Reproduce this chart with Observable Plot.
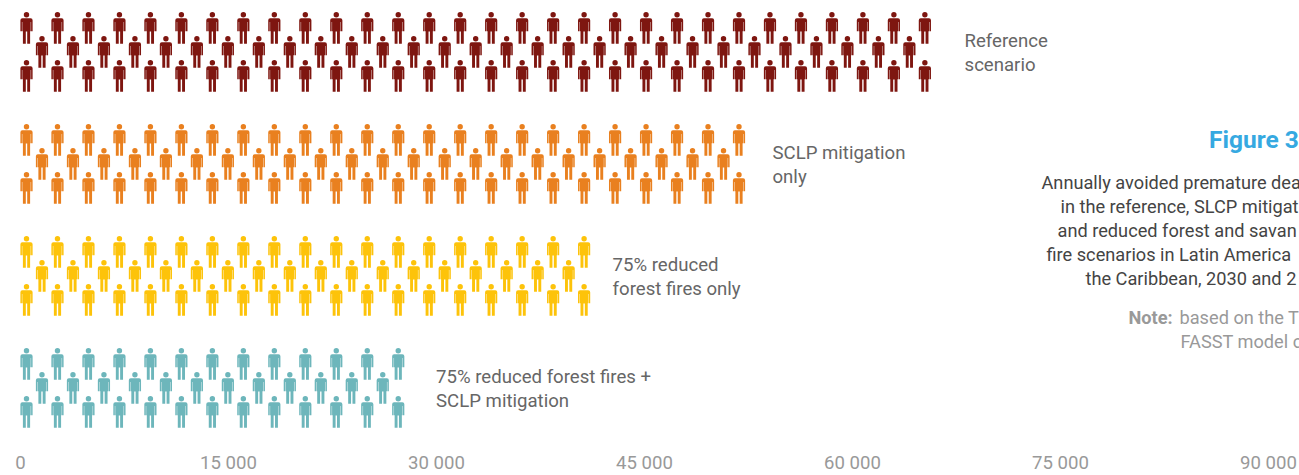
<!DOCTYPE html>
<html><head><meta charset="utf-8">
<script src="https://cdn.jsdelivr.net/npm/d3@7"></script>
<script src="https://cdn.jsdelivr.net/npm/@observablehq/plot@0.6"></script>
<style>html,body{margin:0;padding:0;background:#fff;overflow:hidden}svg{display:block}</style>
</head><body><div id="chart"></div>
<script>
const scenarios = ["Reference\nscenario","SCLP mitigation\nonly","75% reduced\nforest fires only","75% reduced forest fires +\nSCLP mitigation"];
const values = [66000, 52500, 41400, 28000];
const labelAt = [68080, 54230, 42700, 29970];
const colors = ["#7e1610","#e9801f","#fdc30a","#6db6bb"];
const tickValues = [0,15000,30000,45000,60000,75000,90000];
const deathsPerIcon = 1117;
const firstIcon = 433;
const rowsPerScenario = 112/24;

const person = {draw(c,size){
  const s = Math.sqrt(size/Math.PI)/10;
  c.moveTo(2.7*s,-13.3*s);c.arc(0,-13.3*s,2.7*s,0,2*Math.PI);c.closePath();
  c.moveTo(-6.1*s,-7.8*s);c.arc(-4.1*s,-7.8*s,2*s,Math.PI,1.5*Math.PI);c.lineTo(4.1*s,-9.8*s);c.arc(4.1*s,-7.8*s,2*s,1.5*Math.PI,2*Math.PI);
  c.lineTo(6.1*s,3.2*s);c.lineTo(4.6*s,3.2*s);c.lineTo(4.6*s,-6*s);c.lineTo(4.2*s,-6*s);c.lineTo(4.2*s,3.2*s);
  c.lineTo(3.6*s,3.2*s);c.lineTo(3.6*s,15.8*s);c.lineTo(.7*s,15.8*s);c.lineTo(.7*s,3.5*s);c.lineTo(-.7*s,3.5*s);c.lineTo(-.7*s,15.8*s);c.lineTo(-3.6*s,15.8*s);c.lineTo(-3.6*s,3.2*s);
  c.lineTo(-4.2*s,3.2*s);c.lineTo(-4.2*s,-6*s);c.lineTo(-4.6*s,-6*s);c.lineTo(-4.6*s,3.2*s);c.lineTo(-6.1*s,3.2*s);c.closePath();
}};

const icons = values.flatMap((v,k)=>{
  const n = Math.round(v/deathsPerIcon), out=[];
  for(let i=0;i<n;i++){
    const rows = i%2 ? [1] : [0,2];
    for(const r of rows) out.push({k, x:firstIcon+i*deathsPerIcon, y:r+k*rowsPerScenario, color:colors[k]});
  }
  return out;
});
const labels = scenarios.map((t,k)=>({t,x:labelAt[k],y:1+k*rowsPerScenario}));

const descLines = [
  ["Annually avoided premature dea",1041,182.5],
  ["in the reference, SLCP mitigat",1060,206.5],
  ["and reduced forest and savan",1057,230.5],
  ["fire scenarios in Latin America",1046,254.5],
  ["the Caribbean, 2030 and 2",1085,278.5]
];
const noteLines = [
  ["Note:",1128,317.5,"bold"],
  ["based on the T",1179,317.5,"normal"],
  ["FASST model c",1180,341.5,"normal"]
];

const font = "Roboto, sans-serif";
const chart = Plot.plot({
  width:1299,height:475,marginLeft:0,marginRight:0,marginTop:0,marginBottom:0,
  style:{fontFamily:font,background:"#fff"},
  x:{domain:[0,90000],range:[20,1268]},
  y:{domain:[0,13],range:[27.5,27.5+13*24],axis:null},
  marks:[
    Plot.dot(icons,{x:"x",y:"y",fill:"color",stroke:"none",symbol:person,r:10}),
    Plot.text(labels,{x:"x",y:"y",text:"t",textAnchor:"start",lineAnchor:"middle",lineHeight:24/18.6,fontSize:18.6,fill:"#666",dy:-0.5}),
    Plot.axisX({ticks:tickValues,tickFormat:d=>d3.format(",")(d).replace(/,/g," "),anchor:"bottom",tickSize:0,tickPadding:0,label:null,fontSize:18.6,fill:"#999",dy:-20}),
    ...descLines.map(d=>Plot.text([d],{text:d=>d[0],frameAnchor:"top-left",dx:d[1],dy:d[2],textAnchor:"start",lineAnchor:"middle",fontSize:18.2,fill:"#444"})),
    ...noteLines.map(d=>Plot.text([d],{text:d=>d[0],frameAnchor:"top-left",dx:d[1],dy:d[2],textAnchor:"start",lineAnchor:"middle",fontSize:18.2,fontWeight:d[3],fill:"#999"})),
    Plot.text(["Figure 3"],{frameAnchor:"top-left",dx:1208.5,dy:140,textAnchor:"start",lineAnchor:"middle",fontSize:24.5,fontWeight:"bold",fill:"#36a9e1"})
  ]
});
document.getElementById("chart").append(chart);
</script></body></html>
